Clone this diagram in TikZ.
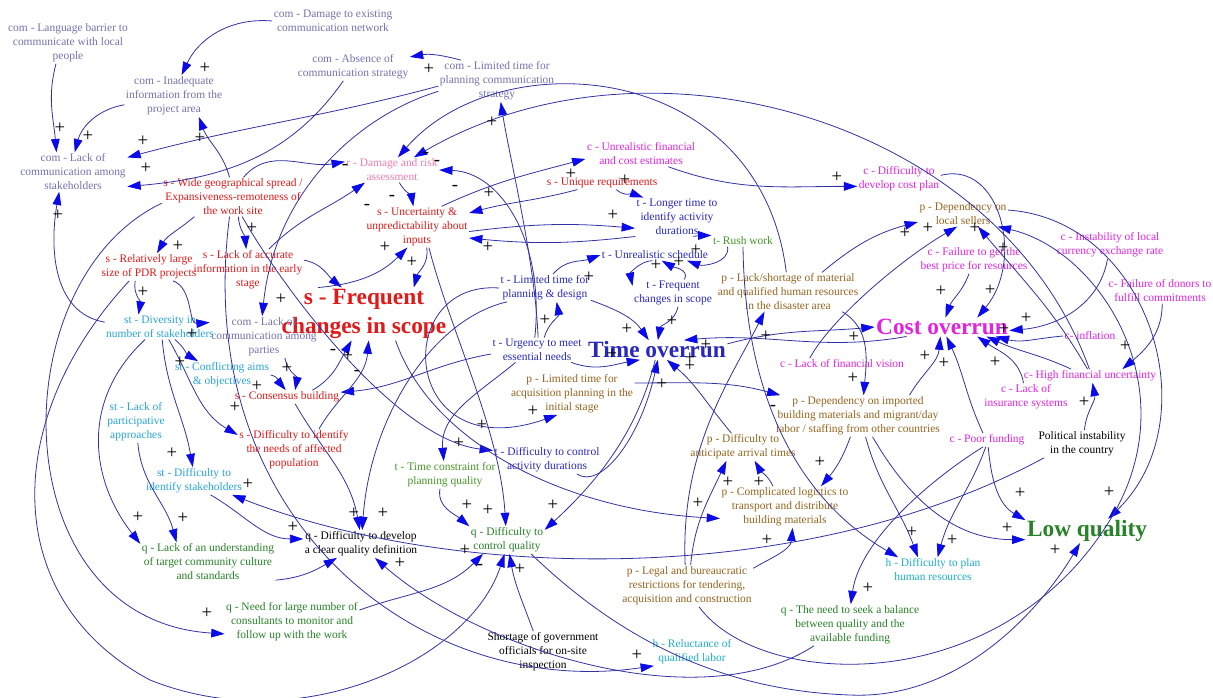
\documentclass[tikz,border=0pt]{standalone}
\usepackage{fontspec}
\setmainfont{Liberation Serif}
\usetikzlibrary{arrows.meta}

\definecolor{comcol}{RGB}{115,115,175}
\definecolor{scol}{RGB}{225,25,25}
\definecolor{rcol}{RGB}{240,125,175}
\definecolor{ccol}{RGB}{225,35,225}
\definecolor{tcol}{RGB}{40,40,190}
\definecolor{tgcol}{RGB}{70,150,40}
\definecolor{pcol}{RGB}{150,100,30}
\definecolor{stcol}{RGB}{40,165,215}
\definecolor{qcol}{RGB}{40,130,40}
\definecolor{hcol}{RGB}{30,175,200}
\definecolor{linkcol}{RGB}{50,50,165}
\definecolor{tipcol}{RGB}{10,10,235}

\tikzset{
  var/.style={align=center, inner sep=1pt, font=\fontsize{8.6}{10.5}\selectfont},
  comvar/.style={var, text=comcol},
  svar/.style={var, text=scol},
  rvar/.style={var, text=rcol},
  cvar/.style={var, text=ccol},
  tvar/.style={var, text=tcol},
  tgvar/.style={var, text=tgcol},
  pvar/.style={var, text=pcol},
  stvar/.style={var, text=stcol},
  qvar/.style={var, text=qcol},
  hvar/.style={var, text=hcol},
  bigvar/.style={align=center, inner sep=1pt, font=\fontsize{17.5}{22}\selectfont\bfseries},
  lnk/.style={draw=linkcol, line width=0.6pt, -{Triangle[length=10pt,width=6.5pt,color=tipcol]}},
  sgn/.style={inner sep=0pt, font=\fontsize{14}{14}\selectfont},
}

\begin{document}
\begin{tikzpicture}[x=0.75pt,y=-0.75pt]
\path[use as bounding box, fill=white] (0,0) rectangle (1213,698);

% variables
\node[comvar] (comlang) at (68,43) {com - Language barrier to\\communicate with local\\people};
\node[comvar] (comdamage) at (333,21) {com - Damage to existing\\communication network};
\node[comvar] (cominadeq) at (174,96) {com - Inadequate\\information from the\\project area};
\node[comvar] (comabsence) at (353,67) {com - Absence of\\communication strategy};
\node[comvar] (comlimited) at (497,81) {com - Limited time for\\planning communication\\strategy};
\node[comvar] (comlack) at (73,172) {com - Lack of\\communication among\\stakeholders};
\node[svar] (swide) at (233,197) {s - Wide geographical spread /\\Expansiveness-remoteness of\\the work site};
\node[rvar] (rdamage) at (392,170) {r - Damage and risk\\assessment};
\node[svar] (suncert) at (417,227) {s - Uncertainty \&\\unpredictability about\\inputs};
\node[cvar] (cunreal) at (641,154) {c - Unrealistic financial\\and cost estimates};
\node[svar] (sunique) at (602,183) {s - Unique requirements};
\node[tvar] (tlonger) at (677,217) {t - Longer time to\\identify activity\\durations};
\node[cvar] (cdiffcost) at (899,179) {c - Difficulty to\\develop cost plan};
\node[pvar] (pdeplocal) at (963,214) {p - Dependency on\\local sellers};
\node[cvar] (cinstab) at (1110,245) {c - Instability of local\\currency exchange rate};
\node[cvar] (cfailprice) at (974,260) {c - Failure to get the\\best price for resources};
\node[cvar] (cfailfund) at (1160,291) {c- Failure of donors to\\fulfill commitments};
\node[svar] (slarge) at (149,267) {s - Relatively large\\size of PDR projects};
\node[svar] (slackacc) at (248,270) {s - Lack of accurate\\information in the early\\stage};
\node[bigvar, text=scol] (sfreq) at (364,314) {s - Frequent\\changes in scope};
\node[stvar] (stdiv) at (160,327) {st - Diversity in\\number of stakeholders};
\node[comvar] (comlackpart) at (264,337) {com - Lack of\\communication among\\parties};
\node[stvar] (stconflict) at (222,375) {st - Conflicting aims\\\& objectives};
\node[svar] (sconsensus) at (287,397) {s - Consensus building};
\node[stvar] (stlackpart) at (136,422) {st - Lack of\\participative\\approaches};
\node[svar] (sdiffneeds) at (294,450) {s - Difficulty to identify\\the needs of affected\\population};
\node[tgvar] (trush) at (743,241) {t- Rush work};
\node[tvar] (tunreal) at (655,255) {t - Unrealistic schedule};
\node[tvar] (tlimplan) at (545,288) {t - Limited time for\\planning \& design};
\node[tvar] (tfreq) at (673,293) {t - Frequent\\changes in scope};
\node[pvar] (plackshort) at (788,292) {p - Lack/shortage of material\\and qualified human resources\\in the disaster area};
\node[bigvar, text=tcol] (timeover) at (657,350) {Time overrun};
\node[tvar] (turgency) at (537,350) {t - Urgency to meet\\essential needs};
\node[pvar] (plimacq) at (572,394) {p - Limited time for\\acquisition planning in the\\initial stage};
\node[tvar] (tdiffctrl) at (547,460) {t - Difficulty to control\\activity durations};
\node[pvar] (pdiffarr) at (743,447) {p - Difficulty to\\anticipate arrival times};
\node[cvar] (clackfin) at (842,364) {c - Lack of financial vision};
\node[pvar] (pdepimp) at (858,416) {p - Dependency on imported\\building materials and migrant/day\\labor / staffing from other countries};
\node[bigvar, text=ccol] (costover) at (942,327) {Cost overrun};
\node[cvar] (cinflation) at (1090,336) {c- inflation};
\node[cvar] (chighfin) at (1090,376) {c- High financial uncertainty};
\node[cvar] (clackins) at (1026,397) {c - Lack of\\insurance systems};
\node[cvar] (cpoor) at (987,440) {c - Poor funding};
\node[var] (political) at (1082,444) {Political instability\\in the country};
\node[stvar] (stdiffid) at (194,481) {st - Difficulty to\\identify stakeholders};
\node[var] (qdiffdef) at (361,544) {q - Difficulty to develop\\a clear quality definition};
\node[qvar] (qlackund) at (208,562) {q - Lack of an understanding\\of target community culture\\and standards};
\node[qvar] (qneed) at (292,622) {q - Need for large number of\\consultants to monitor and\\follow up with the work};
\node[tgvar] (ttimecon) at (445,475) {t - Time constraint for\\planning quality};
\node[qvar] (qdiffctrl) at (507,540) {q - Difficulty to\\control quality};
\node[pvar] (pcomp) at (785,507) {p - Complicated logistics to\\transport and distribute\\building materials};
\node[pvar] (plegal) at (687,586) {p - Legal and bureaucratic\\restrictions for tendering,\\acquisition and construction};
\node[var] (shortage) at (543,652) {Shortage of government\\officials for on-site\\inspection};
\node[hvar] (hreluct) at (692,652) {h - Reluctance of\\qualified labor};
\node[qvar] (qbalance) at (850,625) {q - The need to seek a balance\\between quality and the\\available funding};
\node[hvar] (hdiffplan) at (933,570) {h - Difficulty to plan\\human resources};
\node[bigvar, text=qcol] (lowq) at (1087,531) {Low quality};

% communication links
\draw[lnk] (comdamage.west) to[out=175,in=65] (cominadeq.70);
\draw[lnk] (comlang.240) to[out=255,in=95] (comlack.130);
\draw[lnk] (cominadeq.190) to[out=190,in=75] (comlack.85);
\draw[lnk] (comlimited.185) to[out=195,in=15] (comlack.15);
\draw[lnk] (comabsence.235) to[out=235,in=5] (comlack.-15);
\draw[lnk] (swide.100) to[out=105,in=-70] (cominadeq.-40);
\draw[lnk] (stdiv.175) to[out=170,in=-100] (comlack.235);
\draw[lnk] (comlimited.150) to[out=165,in=10] (comabsence.10);
\draw[lnk] (comlimited.190) .. controls (360,115) and (275,190) .. (comlackpart.95);

% scope links
\draw[lnk] (plackshort.95) .. controls (760,60) and (500,40) .. (rdamage.65);
\draw[lnk] (chighfin.95) .. controls (1000,120) and (650,20) .. (rdamage.30);
\draw[lnk] (swide.62) to[out=50,in=190] (rdamage.170);
\draw[lnk] (slackacc.45) to[out=45,in=215] (rdamage.205);
\draw[lnk] (rdamage.-60) to[out=-60,in=100] (suncert.100);
\draw[lnk] (slackacc.10) to[out=-10,in=140] (sfreq.130);
\draw[lnk] (sfreq.150) to[out=5,in=225] (suncert.245);
\draw[lnk] (suncert.-65) to[out=-80,in=75] (sfreq.28);
\draw[lnk] (sunique.195) to[out=195,in=15] (suncert.15);
\draw[lnk] (suncert.-5) to[bend left=6] (tlonger.195);
\draw[lnk] (tlonger.205) to[bend left=6] (suncert.-12);
\draw[lnk] (suncert.40) to[out=25,in=195] (cunreal.185);
\draw[lnk] (sunique.-25) to[out=-40,in=160] (tlonger.150);

% time links
\draw[lnk] (turgency.100) .. controls (545,240) and (500,172) .. (rdamage.east);
\draw[lnk] (turgency.85) .. controls (535,260) and (510,160) .. (comlimited.-80);
\draw[lnk] (turgency.60) to[out=75,in=-80] (tlimplan.-50);
\draw[lnk] (tlimplan.60) to[out=50,in=200] (tunreal.180);
\draw[lnk] (tlimplan.-15) to[out=-20,in=125] (timeover.130);
\draw[lnk] (tfreq.-70) to[out=-100,in=80] (timeover.85);
\draw[lnk] (tunreal.-115) to[bend right=50] (tfreq.170);
\draw[lnk] (tfreq.50) to[out=60,in=-30] (tunreal.-40);
\draw[lnk] (tlonger.-50) to[out=10,in=180] (trush.170);
\draw[lnk] (trush.200) to[out=-80,in=-20] (tunreal.-10);
\draw[lnk] (timeover.5) to[out=15,in=185] (costover.west);
\draw[lnk] (costover.195) to[out=190,in=5] (timeover.20);
\draw[lnk] (turgency.185) to[out=190,in=5] (sconsensus.5);
\draw[lnk] (turgency.-150) to[out=220,in=95] (ttimecon.95);
\draw[lnk] (turgency.-20) to[out=-20,in=190] (timeover.-150);
\draw[lnk] (tlimplan.180) .. controls (390,280) and (400,470) .. (plimacq.-125);
\draw[lnk] (tlimplan.200) .. controls (430,320) and (370,420) .. (qdiffdef.85);
\draw[lnk] (tdiffctrl.-25) .. controls (600,490) and (640,440) .. (timeover.-85);

% cost links
\draw[lnk] (cunreal.-25) to[out=-20,in=180] (cdiffcost.190);
\draw[lnk] (cdiffcost.5) .. controls (1000,160) and (1025,260) .. (costover.15);
\draw[lnk] (cfailprice.-110) to[out=-110,in=70] (costover.70);
\draw[lnk] (cinstab.-100) to[out=-100,in=5] (costover.-3);
\draw[lnk] (cinflation.west) to[out=185,in=-15] (costover.-10);
\draw[lnk] (chighfin.160) to[out=155,in=-25] (costover.-12);
\draw[lnk] (clackins.100) to[out=100,in=-35] (costover.-15);
\draw[lnk] (pdepimp.22) to[out=60,in=-95] (costover.-100);
\draw[lnk] (cpoor.120) to[out=115,in=-65] (costover.-65);
\draw[lnk] (political.80) to[out=85,in=-80] (chighfin.-70);
\draw[lnk] (cfailfund.-80) to[out=-90,in=40] (chighfin.12);
\draw[lnk] (chighfin.110) to[out=120,in=-50] (pdeplocal.-40);
\draw[lnk] (cpoor.-120) .. controls (930,480) and (860,540) .. (qbalance.88);
\draw[lnk] (cpoor.-100) to[out=-110,in=75] (hdiffplan.70);
\draw[lnk] (cpoor.-80) to[out=-85,in=150] (lowq.170);
\draw[lnk] (clackfin.170) .. controls (830,320) and (900,260) .. (pdeplocal.-115);

% procurement links
\draw[lnk] (pdeplocal.5) .. controls (1150,220) and (1210,420) .. (lowq.30);
\draw[lnk] (pdepimp.-55) to[out=-60,in=180] (lowq.188);
\draw[lnk] (pdepimp.-70) to[out=-75,in=110] (hdiffplan.140);
\draw[lnk] (pdepimp.-110) to[out=-110,in=50] (pcomp.30);
\draw[lnk] (plackshort.-20) to[out=-30,in=85] (pdepimp.75);
\draw[lnk] (plackshort.30) to[out=40,in=195] (pdeplocal.190);
\draw[lnk] (plimacq.10) to[out=0,in=165] (pdepimp.165);
\draw[lnk] (plegal.-60) .. controls (760,690) and (1000,700) .. (1110,520) .. controls (1190,390) and (1100,250) .. (pdeplocal.-20);
\draw[lnk] (plegal.15) to[out=30,in=-95] (pcomp.-70);
\draw[lnk] (plegal.80) to[out=85,in=-115] (pdiffarr.-140);
\draw[lnk] (plegal.95) .. controls (680,450) and (730,380) .. (plackshort.-140);
\draw[lnk] (pcomp.120) to[out=115,in=-60] (pdiffarr.-50);
\draw[lnk] (pdiffarr.130) to[out=130,in=-40] (timeover.-45);
\draw[lnk] (trush.-90) .. controls (745,400) and (800,500) .. (hdiffplan.160);

% stakeholder links
\draw[lnk] (swide.207) to[out=220,in=60] (slarge.60);
\draw[lnk] (swide.-75) to[out=-85,in=95] (slackacc.95);
\draw[lnk] (swide.-65) .. controls (290,300) and (400,440) .. (tdiffctrl.170);
\draw[lnk] (swide.-100) .. controls (190,520) and (420,700) .. (hreluct.200);
\draw[lnk] (swide.185) .. controls (0,280) and (0,620) .. (qneed.190);
\draw[lnk] (slarge.-135) to[out=-100,in=80] (stdiv.150);
\draw[lnk] (slarge.-30) to[out=-20,in=185] (comlackpart.165);
\draw[lnk] (stdiv.-40) to[out=-40,in=150] (stconflict.150);
\draw[lnk] (stdiv.-55) to[out=-60,in=150] (sdiffneeds.165);
\draw[lnk] (stdiv.-80) to[out=-85,in=100] (stdiffid.95);
\draw[lnk] (stdiv.220) .. controls (80,400) and (90,480) .. (qlackund.165);
\draw[lnk] (comlackpart.-45) to[out=-80,in=80] (sconsensus.40);
\draw[lnk] (stconflict.east) to[out=-10,in=130] (sconsensus.100);
\draw[lnk] (sconsensus.15) to[out=30,in=-120] (sfreq.-115);
\draw[lnk] (sdiffneeds.40) to[out=60,in=-95] (sfreq.-80);
\draw[lnk] (sconsensus.-40) to[out=-60,in=100] (qdiffdef.95);
\draw[lnk] (sfreq.-40) .. controls (430,440) and (560,510) .. (pcomp.190);
\draw[lnk] (suncert.-60) .. controls (450,330) and (500,430) .. (qdiffctrl.95);

% quality links
\draw[lnk] (political.200) .. controls (800,590) and (450,580) .. (stdiffid.-20);
\draw[lnk] (stdiffid.-40) to[out=-30,in=180] (qdiffdef.175);
\draw[lnk] (stlackpart.-85) to[out=-85,in=105] (qlackund.148);
\draw[lnk] (qlackund.-15) to[out=5,in=210] (qdiffdef.-150);
\draw[lnk] (qbalance.210) .. controls (700,720) and (480,650) .. (qdiffdef.-45);
\draw[lnk] (ttimecon.-110) to[out=-100,in=140] (qdiffctrl.160);
\draw[lnk] (timeover.-100) .. controls (640,420) and (610,470) .. (qdiffctrl.15);
\draw[lnk] (qneed.10) to[out=20,in=-135] (qdiffctrl.-150);
\draw[lnk] (shortage.115) to[out=110,in=-80] (qdiffctrl.-80);
\draw[lnk] (slarge.215) .. controls (0,420) and (0,600) .. (150,680) .. controls (300,740) and (470,660) .. (qdiffctrl.-100);
\draw[lnk] (qdiffctrl.-30) .. controls (600,620) and (700,690) .. (850,695) .. controls (960,700) and (1040,610) .. (lowq.-120);

% polarities
\foreach \px/\py [count=\i] in {60/128,88/136,143/141,200/138,146/168,58/215,205/68,252/228,
  429/69,492/122,571/174,625/180,489/193,613/215,837/177,905/233,928/228,975/228,
  178/246,143/292,281/299,192/334,180/362,287/368,257/386,235/407,172/453,385/247,412/262,348/356,
  488/247,589/277,656/265,679/262,696/250,627/329,672/321,612/354,690/358,690/366,706/345,662/384,
  766/336,533/411,482/425,459/443,545/320,941/291,990/290,1026/318,1004/329,1125/346,925/356,
  944/363,995/362,854/337,853/378,1084/402,820/462,1003/248,248/484,138/517,183/518,293/527,
  354/513,383/513,400/563,207/613,467/505,488/510,553/505,465/550,520/569,637/655,728/482,
  759/482,698/503,767/540,1020/493,1109/492,1007/528,912/532,952/540,1055/550,868/588}
  \node[sgn] (plus\i) at (\px,\py) {+};
\foreach \px/\py [count=\i] in {345/167,367/207,392/198,426/155,437/163,455/188,333/352,357/373,773/408,480/567}
  \node[sgn] (minus\i) at (\px,\py) {-};

\end{tikzpicture}
\end{document}
